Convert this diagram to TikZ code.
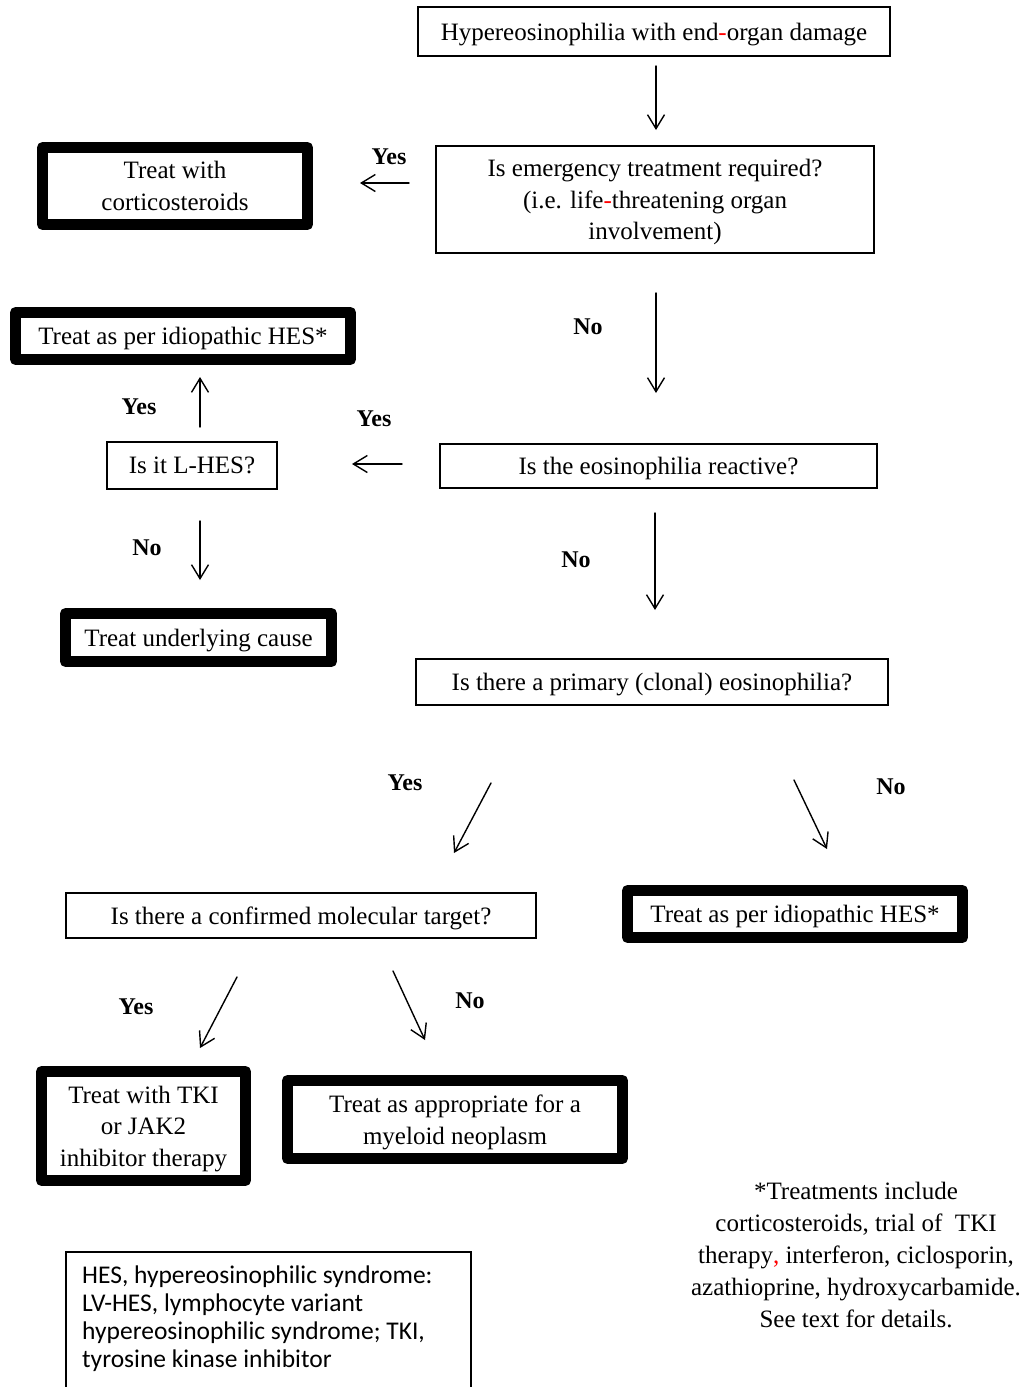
\documentclass[tikz,border=0pt]{standalone}
\usepackage{fontspec}
\setmainfont{Liberation Serif}
\newfontfamily\calibri{Carlito}
\usetikzlibrary{arrows.meta}
\begin{document}
\begin{tikzpicture}[x=1pt,y=-1pt,
  thinbox/.style={draw, line width=1.4pt, inner sep=0pt, text depth=0pt, align=center, font=\fontsize{25}{31.5}\selectfont},
  thickbox/.style={draw, line width=11pt, line join=round, inner sep=0pt, text depth=0pt, align=center, font=\fontsize{25}{31.5}\selectfont},
  lbl/.style={font=\fontsize{24}{28}\selectfont\bfseries, inner sep=0pt},
  arr/.style={line width=1.4pt, -{Straight Barb[length=14pt,width=17pt,line width=1.4pt]}, line cap=round},
  ]
\useasboundingbox (0,0) rectangle (1025,1387);

% question boxes
\node[thinbox, minimum width=472, minimum height=49] (top) at (654,31.5) {Hypereosinophilia with end{\color{red}-}organ damage};
\node[thinbox, minimum width=438, minimum height=107] (emerg) at (655,199.5) {Is emergency treatment required?\\(i.e. life{\color{red}-}threatening organ\\involvement)};
\node[thinbox, minimum width=437, minimum height=44] (react) at (658.5,466) {Is the eosinophilia reactive?};
\node[thinbox, minimum width=170, minimum height=47] (lhes) at (192,465.5) {Is it L-HES?};
\node[thinbox, minimum width=472, minimum height=46] (prim) at (652,682) {Is there a primary (clonal) eosinophilia?};
\node[thinbox, minimum width=470, minimum height=45] (mol) at (301,915.5) {Is there a confirmed molecular target?};

% treatment boxes
\node[thickbox, minimum width=265, minimum height=77] (cort) at (175,186) {Treat with\\corticosteroids};
\node[thickbox, minimum width=335, minimum height=47] (idioA) at (183,336) {Treat as per idiopathic HES*};
\node[thickbox, minimum width=266, minimum height=48] (under) at (198.5,637.5) {Treat underlying cause};
\node[thickbox, minimum width=335, minimum height=47] (idioB) at (795,914) {Treat as per idiopathic HES*};
\node[thickbox, minimum width=204, minimum height=109] (tki) at (143.5,1126) {Treat with TKI\\or JAK2\\inhibitor therapy};
\node[thickbox, minimum width=335, minimum height=78] (myel) at (455,1119.5) {Treat as appropriate for a\\myeloid neoplasm};

% arrow end points
\coordinate (a1s) at (656,66);   \coordinate (a1e) at (656,130);
\coordinate (a2s) at (409,183);  \coordinate (a2e) at (360,183);
\coordinate (a3s) at (656,293);  \coordinate (a3e) at (656,393);
\coordinate (a4s) at (402,464);  \coordinate (a4e) at (352,464);
\coordinate (a5s) at (200,427);  \coordinate (a5e) at (200,377);
\coordinate (a6s) at (200,521);  \coordinate (a6e) at (200,580);
\coordinate (a7s) at (655,513);  \coordinate (a7e) at (655,610);
\coordinate (a8s) at (491,783);  \coordinate (a8e) at (454,853);
\coordinate (a9s) at (794,780);  \coordinate (a9e) at (827,849);
\coordinate (a10s) at (237,977); \coordinate (a10e) at (200,1048);
\coordinate (a11s) at (393,971); \coordinate (a11e) at (425,1040);

\foreach \i in {1,...,11} \draw[arr] (a\i s) -- (a\i e);

% labels
\node[lbl] (l1) at (389,157) {Yes};
\node[lbl] (l2) at (588,327) {No};
\node[lbl] (l3) at (139,407) {Yes};
\node[lbl] (l4) at (374,419) {Yes};
\node[lbl] (l5) at (147,548) {No};
\node[lbl] (l6) at (576,560) {No};
\node[lbl] (l7) at (405,783) {Yes};
\node[lbl] (l8) at (891,787) {No};
\node[lbl] (l9) at (136,1007) {Yes};
\node[lbl] (l10) at (470,1001) {No};

% footnote
\node[align=center, inner sep=0pt, font=\fontsize{25}{32}\selectfont] (foot) at (856,1255)
  {*Treatments include\\corticosteroids, trial of\ \ TKI\\therapy{\color{red},} interferon, ciclosporin,\\azathioprine, hydroxycarbamide.\\See text for details.};

% legend box (cut at the bottom edge)
\coordinate (lgBL) at (66,1387); \coordinate (lgTL) at (66,1252);
\coordinate (lgTR) at (471,1252); \coordinate (lgBR) at (471,1387);
\draw[line width=1.4pt] (lgBL) -- (lgTL) -- (lgTR) -- (lgBR);
\node[anchor=north west, align=left, inner sep=0pt, font=\calibri\fontsize{25.5}{28}\selectfont] (legend) at (82,1266)
  {HES, hypereosinophilic syndrome:\\LV-HES, lymphocyte variant\\hypereosinophilic syndrome; TKI,\\tyrosine kinase inhibitor};
\end{tikzpicture}
\end{document}
